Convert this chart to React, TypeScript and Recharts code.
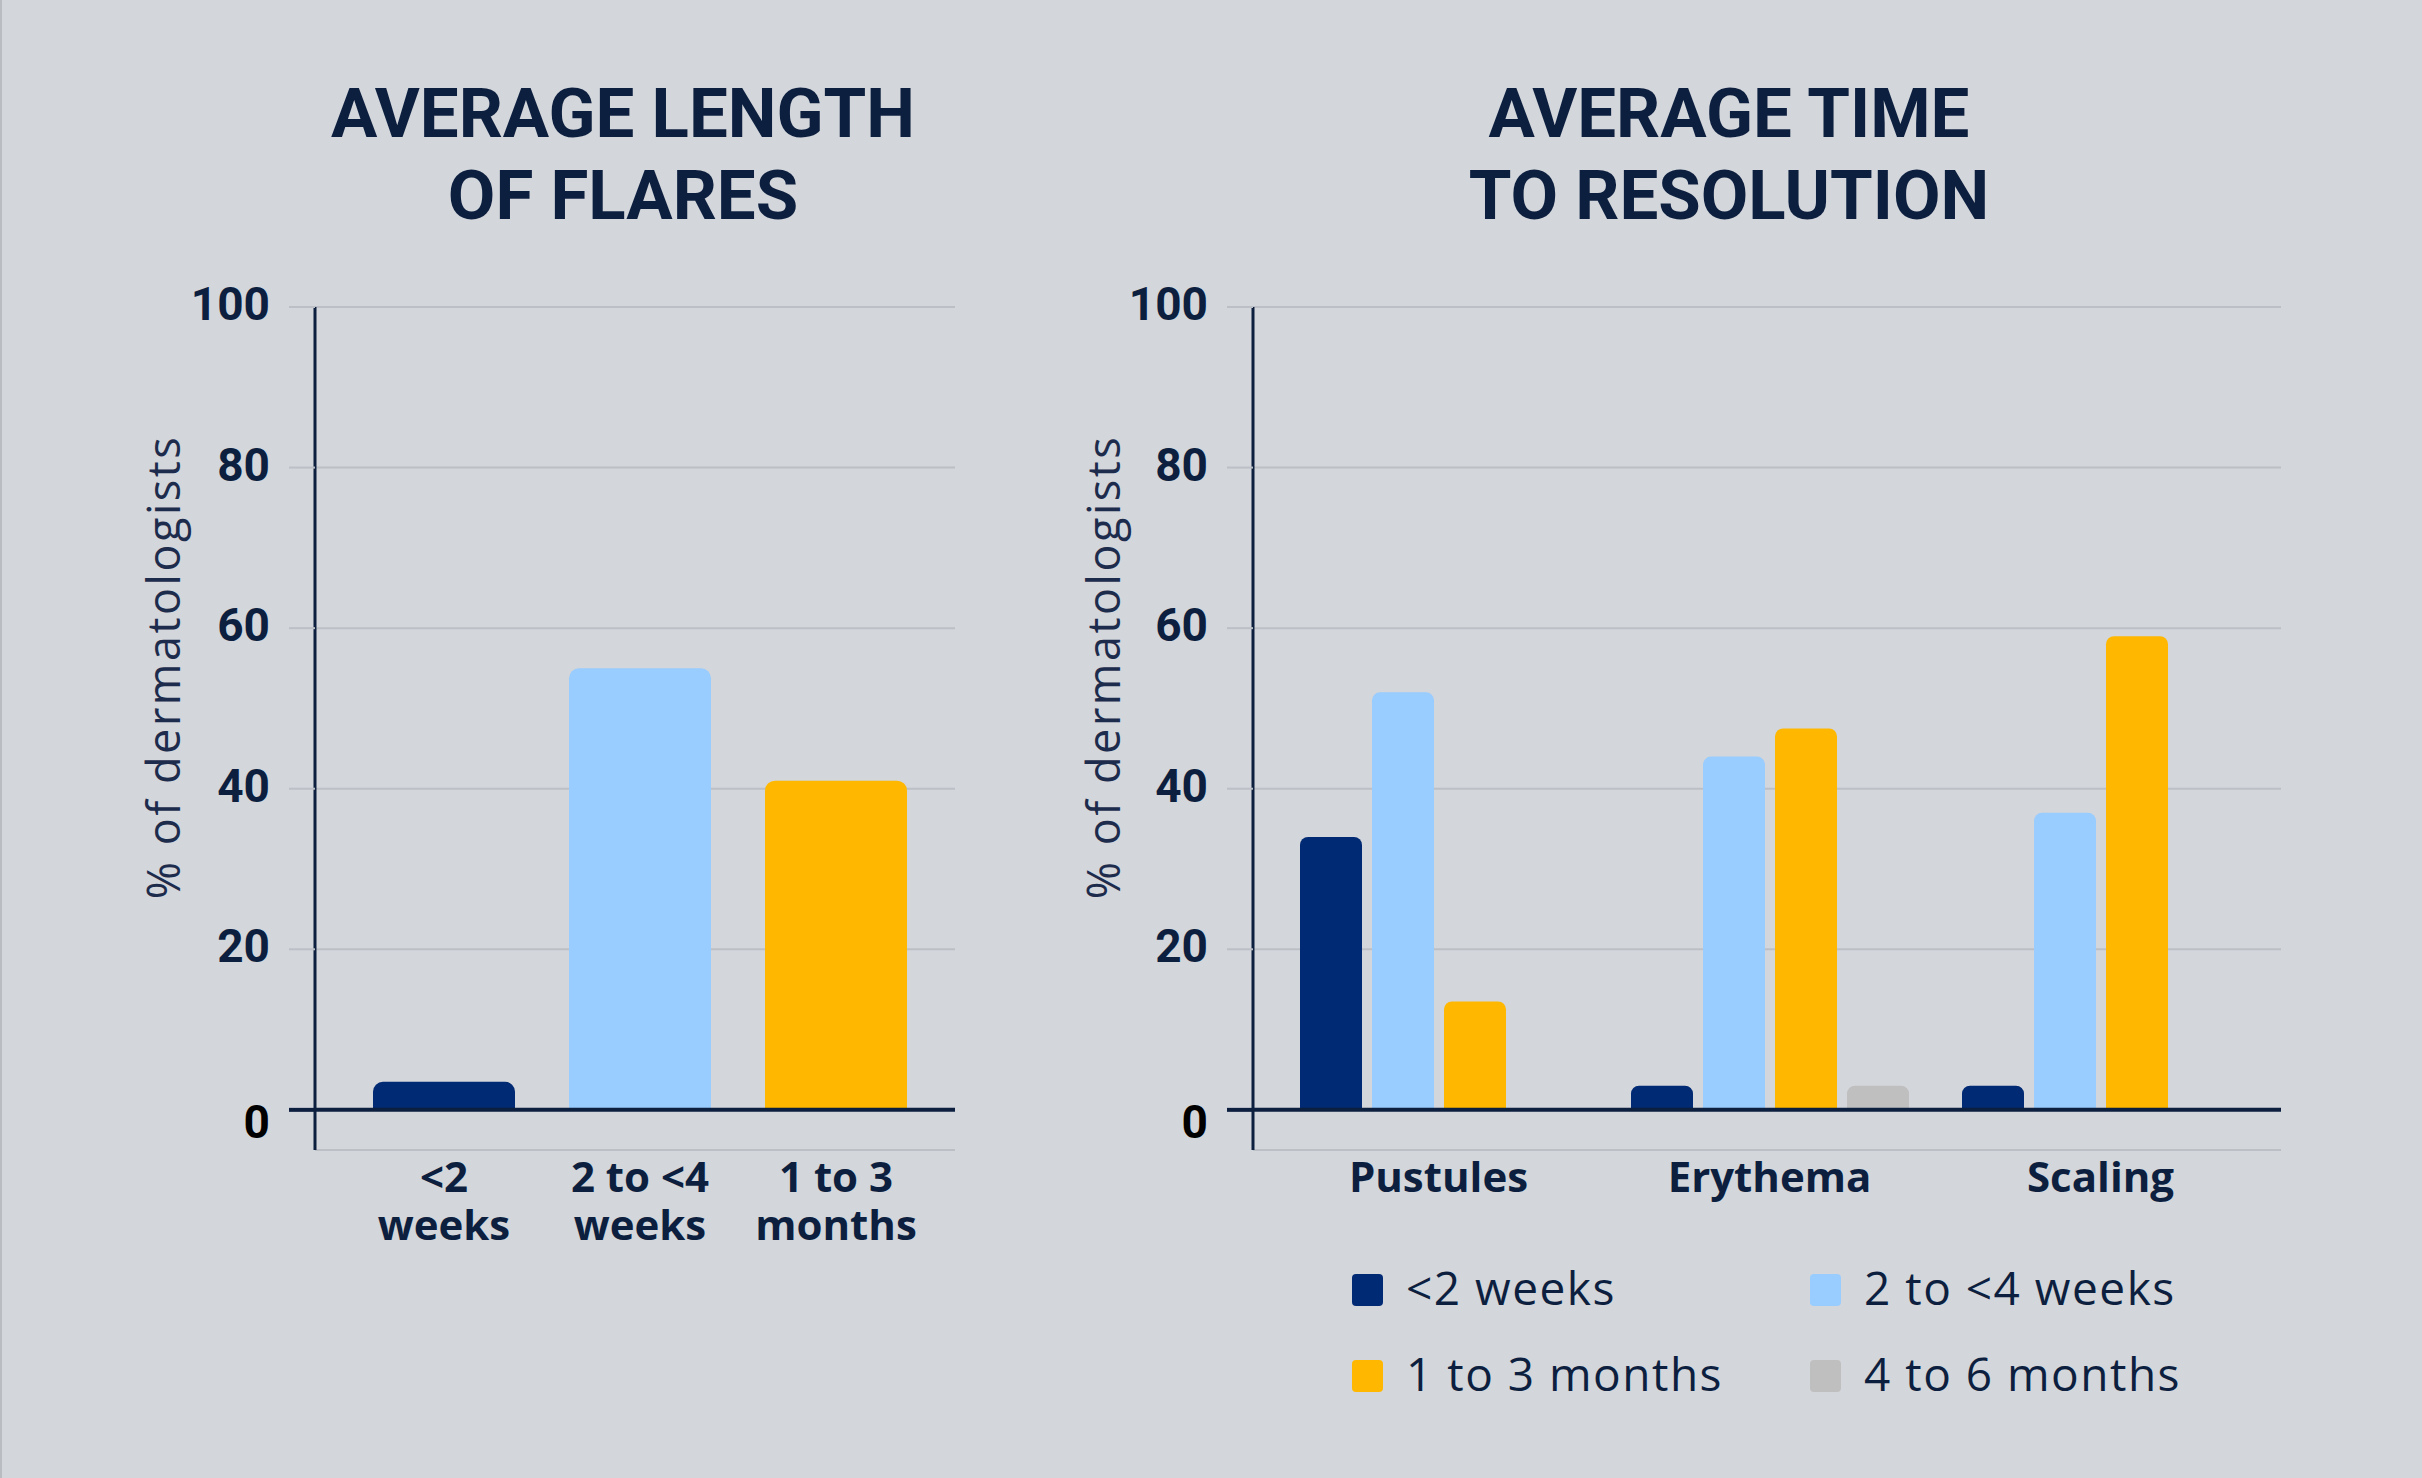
import { BarChart, Bar, Cell, XAxis, YAxis, CartesianGrid, ReferenceLine } from 'recharts';

// Left chart: average length of flares
const flareCategories = ['<2 weeks', '2 to <4 weeks', '1 to 3 months'];
const flareValues = [3.5, 55, 41];

// Right chart: average time to resolution
const symptomCategories = ['Pustules', 'Erythema', 'Scaling'];
const under2Weeks = [34, 3, 3];
const twoTo4Weeks = [52, 44, 37];
const oneTo3Months = [13.5, 47.5, 59];
const fourTo6Months = [null, 3, null];

const seriesNames = ['<2 weeks', '2 to <4 weeks', '1 to 3 months', '4 to 6 months'];
const seriesKeys = ['under2', 'twoTo4', 'oneTo3', 'fourTo6'];
const yTicks = [0, 20, 40, 60, 80, 100];

const NAVY = '#0d1f3f';
const GRID = '#bcc0c6';
const BG = '#d3d6db';
const colors = ['#002a73', '#99ccff', '#ffb700', '#bfbfbf'];

const TICK_SIZE = 26;
const TICK_MARGIN = 19;

const flareData = flareCategories.map((name, i) => ({ name, value: flareValues[i] }));
const symptomData = symptomCategories.map((name, i) => ({
  name,
  under2: under2Weeks[i],
  twoTo4: twoTo4Weeks[i],
  oneTo3: oneTo3Months[i],
  fourTo6: fourTo6Months[i],
}));

function YTick({ x, y, payload }: any) {
  const axisX = x + TICK_SIZE + TICK_MARGIN;
  const isZero = payload.value === 0;
  return (
    <g>
      <line
        x1={axisX - TICK_SIZE}
        x2={axisX}
        y1={y}
        y2={y}
        stroke={isZero ? NAVY : GRID}
        strokeWidth={isZero ? 4 : 2}
      />
      <text
        x={x}
        y={y}
        dy={isZero ? 28 : 13}
        textAnchor="end"
        fill={isZero ? '#000' : NAVY}
        fontFamily="Roboto"
        fontWeight={700}
        fontSize={46}
      >
        {payload.value}
      </text>
    </g>
  );
}

function FlareTick({ x, y, payload }: any) {
  const label = String(payload.value);
  const cut = label.lastIndexOf(' ');
  return (
    <text x={x} y={y} textAnchor="middle" fill={NAVY} fontFamily="Open Sans" fontWeight={700} fontSize={42}>
      <tspan x={x} dy={42}>{label.slice(0, cut)}</tspan>
      <tspan x={x} dy={48}>{label.slice(cut + 1)}</tspan>
    </text>
  );
}

function SymptomTick({ x, y, payload }: any) {
  return (
    <text x={x} y={y} dy={42} textAnchor="middle" fill={NAVY} fontFamily="Open Sans" fontWeight={700} fontSize={42}>
      {payload.value}
    </text>
  );
}

const titleStyle: React.CSSProperties = {
  position: 'absolute',
  top: 73,
  width: 900,
  marginLeft: -450,
  textAlign: 'center',
  fontFamily: 'Roboto',
  fontWeight: 700,
  fontSize: 69,
  lineHeight: '82px',
  color: NAVY,
};

const yLabelStyle: React.CSSProperties = {
  position: 'absolute',
  top: 667,
  transform: 'translate(-50%, -50%) rotate(-90deg)',
  whiteSpace: 'nowrap',
  fontFamily: 'Open Sans',
  fontWeight: 400,
  fontSize: 45,
  letterSpacing: 2.5,
  lineHeight: '45px',
  color: '#1d2c4c',
};

const legendOrder = [0, 1, 2, 3];

export default function App() {
  return (
    <div
      style={{
        position: 'absolute',
        left: 0,
        top: 0,
        width: 2422,
        height: 1478,
        background: BG,
        borderLeft: '2px solid #b9bcc1',
        boxSizing: 'border-box',
        overflow: 'hidden',
      }}
    >
      <div style={{ ...titleStyle, left: 621 }}>
        AVERAGE LENGTH
        <br />
        OF FLARES
      </div>
      <div style={{ ...titleStyle, left: 1727 }}>
        AVERAGE TIME
        <br />
        TO RESOLUTION
      </div>

      <div style={{ ...yLabelStyle, left: 160 }}>% of dermatologists</div>
      <div style={{ ...yLabelStyle, left: 1100 }}>% of dermatologists</div>

      <div style={{ position: 'absolute', left: -2, top: 250 }}>
        <BarChart width={1000} height={1040} data={flareData} margin={{ top: 57, right: 45, bottom: 0, left: 0 }}>
          <CartesianGrid vertical={false} stroke={GRID} strokeWidth={2} />
          <XAxis
            dataKey="name"
            axisLine={false}
            tickLine={false}
            tickSize={0}
            tickMargin={0}
            height={140}
            interval={0}
            padding={{ left: 31, right: 21 }}
            tick={<FlareTick />}
          />
          <YAxis
            width={315}
            domain={[-5, 100]}
            ticks={yTicks}
            axisLine={{ stroke: NAVY, strokeWidth: 3 }}
            tickLine={false}
            tickSize={TICK_SIZE}
            tickMargin={TICK_MARGIN}
            tick={<YTick />}
          />
          <ReferenceLine y={0} stroke={NAVY} strokeWidth={4} />
          <Bar dataKey="value" barSize={142} radius={[10, 10, 0, 0]} isAnimationActive={false}>
            {flareData.map((d, i) => (
              <Cell key={d.name} fill={colors[i]} />
            ))}
          </Bar>
        </BarChart>
      </div>

      <div style={{ position: 'absolute', left: 1048, top: 250 }}>
        <BarChart
          width={1300}
          height={1000}
          data={symptomData}
          barGap={10}
          margin={{ top: 57, right: 69, bottom: 0, left: 0 }}
        >
          <CartesianGrid vertical={false} stroke={GRID} strokeWidth={2} />
          <XAxis
            dataKey="name"
            axisLine={false}
            tickLine={false}
            tickSize={0}
            tickMargin={0}
            height={100}
            interval={0}
            padding={{ left: 20, right: 15 }}
            tick={<SymptomTick />}
          />
          <YAxis
            width={203}
            domain={[-5, 100]}
            ticks={yTicks}
            axisLine={{ stroke: NAVY, strokeWidth: 3 }}
            tickLine={false}
            tickSize={TICK_SIZE}
            tickMargin={TICK_MARGIN}
            tick={<YTick />}
          />
          <ReferenceLine y={0} stroke={NAVY} strokeWidth={4} />
          {seriesKeys.map((key, i) => (
            <Bar
              key={key}
              dataKey={key}
              name={seriesNames[i]}
              fill={colors[i]}
              barSize={62}
              radius={[8, 8, 0, 0]}
              isAnimationActive={false}
            />
          ))}
        </BarChart>
      </div>

      <div
        style={{
          position: 'absolute',
          left: 1350,
          top: 1262,
          display: 'grid',
          gridTemplateColumns: '458px 420px',
          rowGap: 36,
        }}
      >
        {legendOrder.map((i) => (
          <div key={seriesNames[i]} style={{ display: 'flex', alignItems: 'center', height: 50 }}>
            <span
              style={{
                display: 'inline-block',
                width: 31,
                height: 32,
                borderRadius: 4,
                background: colors[i],
                marginRight: 23,
                marginTop: 6,
              }}
            />
            <span
              style={{
                fontFamily: 'Open Sans',
                fontWeight: 400,
                fontSize: 46,
                letterSpacing: 1.5,
                color: NAVY,
                whiteSpace: 'nowrap',
              }}
            >
              {seriesNames[i]}
            </span>
          </div>
        ))}
      </div>
    </div>
  );
}
